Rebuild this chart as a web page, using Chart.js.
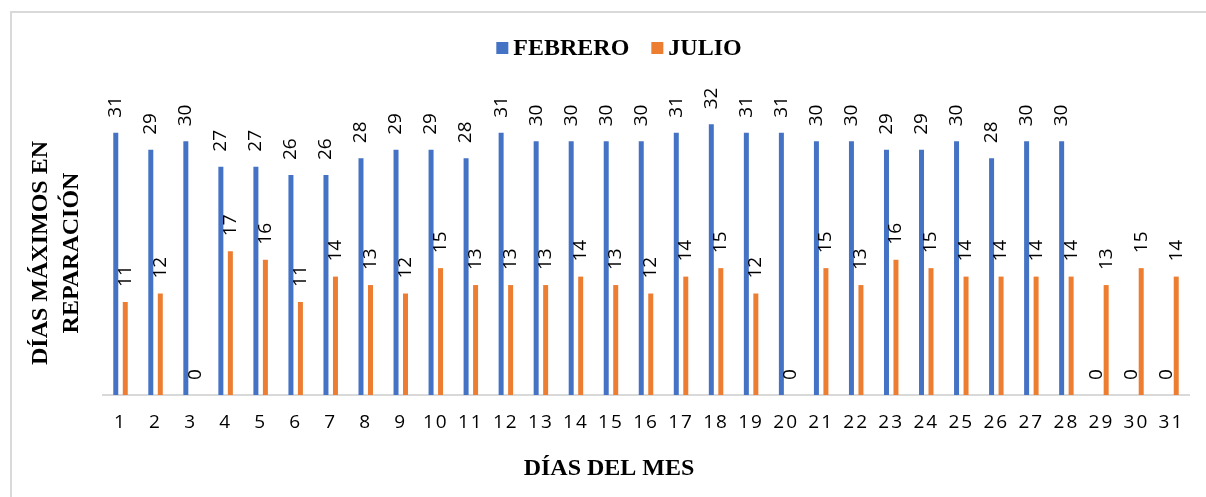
<!DOCTYPE html>
<html>
<head>
<meta charset="utf-8">
<script src="https://cdn.jsdelivr.net/npm/chart.js@4.4.1/dist/chart.umd.min.js"></script>
<style>
  html, body { margin: 0; padding: 0; background: #fff; overflow: hidden; }
  #frame { position: absolute; left: 10px; top: 11px; width: 1300px; height: 600px; border: 2px solid #d9d9d9; box-sizing: border-box; }
  #wrap { position: absolute; left: 0; top: 0; width: 1206px; height: 497px; }
</style>
</head>
<body>
<div id="frame"></div>
<div id="wrap"><canvas id="myChart" width="1206" height="497"></canvas></div>
<script>
// días del mes y días máximos en reparación por mes
const dias = ['1','2','3','4','5','6','7','8','9','10','11','12','13','14','15','16',
              '17','18','19','20','21','22','23','24','25','26','27','28','29','30','31'];
const febrero = [31,29,30,27,27,26,26,28,29,29,28,31,30,30,30,30,31,32,31,31,30,30,29,29,30,28,30,30,0,0,0];
const julio = [11,12,0,17,16,11,14,13,12,15,13,13,13,14,13,12,14,15,12,0,15,13,16,15,14,14,14,14,13,15,14];

const azul = '#4472C4';
const naranja = '#ED7D31';
const serif = '"Liberation Serif", "Times New Roman", serif';

// espaciado de letras para las etiquetas del eje x
const espaciado = {
    id: 'espaciado',
    beforeDraw(chart) { chart.ctx.letterSpacing = '2px'; },
    beforeDatasetsDraw(chart) { chart.ctx.letterSpacing = '0px'; }
};

// numeros girados encima de cada barra
const barLabels = {
    id: 'barLabels',
    afterDatasetsDraw(chart) {
        const ctx = chart.ctx;
        ctx.save();
        ctx.font = '19px "Open Sans"';
        ctx.fillStyle = '#000';
        ctx.textAlign = 'left';
        ctx.textBaseline = 'middle';
        chart.data.datasets.forEach((ds, i) => {
            chart.getDatasetMeta(i).data.forEach((bar, j) => {
                ctx.save();
                ctx.translate(bar.x, bar.y - 15);
                ctx.rotate(-Math.PI / 2);
                ctx.fillText(String(ds.data[j]), 0, 0);
                ctx.restore();
            });
        });
        ctx.restore();
    }
};

// leyenda y titulos de ejes
const textos = {
    id: 'textos',
    afterDraw(chart) {
        const ctx = chart.ctx;
        ctx.save();
        ctx.letterSpacing = '0px';
        ctx.font = 'bold 24px ' + serif;
        ctx.fillStyle = '#000';
        ctx.textBaseline = 'middle';
        ctx.textAlign = 'left';

        // leyenda
        const box = 12, gapBox = 5, gapItem = 22;
        const items = chart.data.datasets.map(ds => ({ label: ds.label, color: ds.backgroundColor, w: ctx.measureText(ds.label).width }));
        let total = 0;
        items.forEach((it, k) => { total += box + gapBox + it.w + (k < items.length - 1 ? gapItem : 0); });
        let x = 619 - total / 2;
        const y = 48;
        items.forEach(it => {
            ctx.fillStyle = it.color;
            ctx.fillRect(x, y - box / 2, box, box);
            x += box + gapBox;
            ctx.fillStyle = '#000';
            ctx.fillText(it.label, x, y + 1);
            x += it.w + gapItem;
        });

        // titulo eje x
        ctx.textAlign = 'center';
        ctx.textBaseline = 'alphabetic';
        ctx.fillText('DÍAS DEL MES', 609, 475);

        // titulo eje y (dos lineas)
        ctx.save();
        ctx.translate(47, 253);
        ctx.rotate(-Math.PI / 2);
        ctx.fillText('DÍAS MÁXIMOS EN', 0, 0);
        ctx.fillText('REPARACIÓN', 0, 31);
        ctx.restore();

        ctx.restore();
    }
};

const ctx = document.getElementById('myChart');
new Chart(ctx, {
    type: 'bar',
    data: {
        labels: dias,
        datasets: [
            { label: 'FEBRERO', data: febrero, backgroundColor: azul },
            { label: 'JULIO', data: julio, backgroundColor: naranja }
        ]
    },
    options: {
        responsive: false,
        animation: false,
        datasets: {
            bar: { categoryPercentage: 0.542, barPercentage: 0.526 }
        },
        layout: { padding: { left: 103, right: 17, top: 99, bottom: 0 } },
        plugins: {
            legend: { display: false },
            tooltip: { enabled: false }
        },
        scales: {
            x: {
                grid: { display: false, drawTicks: false },
                border: { color: '#d9d9d9', width: 2 },
                ticks: {
                    color: '#000',
                    padding: 16,
                    font: { family: 'Open Sans', size: 19 }
                },
                afterFit(scale) { scale.height = 102; }
            },
            y: {
                display: false,
                min: 0,
                max: 35
            }
        }
    },
    plugins: [espaciado, barLabels, textos]
});
</script>
</body>
</html>
